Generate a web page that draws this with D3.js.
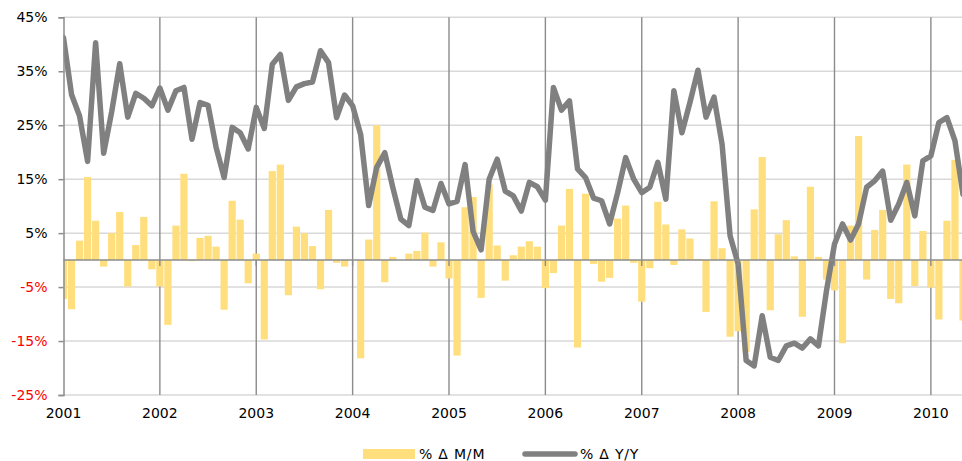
<!DOCTYPE html>
<html>
<head>
<meta charset="utf-8">
<script src="https://cdn.jsdelivr.net/npm/d3@7"></script>
<style>
  html, body { margin: 0; padding: 0; background: #fff; }
  svg { display: block; }
  text { font-family: "DejaVu Sans", Verdana, sans-serif; }
</style>
</head>
<body>
<svg id="chart" width="962" height="461"></svg>
<script>
// Year labels (one tick per January)
const yearLabels = ["2001","2002","2003","2004","2005","2006","2007","2008","2009","2010"];

// Monthly % change month-on-month (Jan 2001 .. May 2010)
const mmChange = [
  -7.2, -9.1, 3.6, 15.4, 7.3, -1.2, 5.0, 8.9, -4.9, 2.8, 8.0, -1.7,
  -4.9, -12.0, 6.4, 16.0, -0.2, 4.1, 4.5, 2.5, -9.2, 11.0, 7.5, -4.3,
  1.2, -14.7, 16.5, 17.7, -6.5, 6.2, 5.0, 2.6, -5.4, 9.3, -0.5, -1.2,
  0.0, -18.2, 3.8, 25.0, -4.1, 0.6, 0.0, 1.2, 1.7, 5.1, -1.2, 3.3,
  -3.4, -17.7, 9.8, 11.7, -7.0, 14.0, 2.7, -3.8, 0.9, 2.5, 3.5, 2.5,
  -5.2, -2.4, 6.4, 13.2, -16.2, 12.3, -0.7, -4.0, -3.3, 7.7, 10.1, -0.5,
  -7.7, -1.5, 10.8, 6.6, -0.9, 5.7, 4.0, 0.2, -9.6, 10.9, 2.2, -14.2,
  -13.2, -17.0, 9.4, 19.1, -9.3, 4.8, 7.4, 0.7, -10.5, 13.6, 0.6, -3.6,
  -5.6, -15.4, 6.4, 23.0, -3.6, 5.6, 9.3, -7.2, -8.0, 17.7, -4.8, 5.4,
  -5.1, -11.0, 7.3, 18.6, -11.2
];

// Monthly % change year-on-year
const yyChange = [
  41.2, 30.7, 26.7, 18.3, 40.3, 19.8, 27.5, 36.4, 26.5, 30.9, 30.0, 28.6,
  31.9, 27.8, 31.4, 32.0, 22.4, 29.2, 28.7, 20.9, 15.3, 24.6, 23.6, 20.6,
  28.3, 24.4, 36.3, 38.1, 29.6, 32.1, 32.7, 33.0, 38.8, 36.6, 26.4, 30.6,
  28.6, 23.3, 10.1, 17.2, 19.9, 13.5, 7.6, 6.4, 14.7, 9.8, 9.2, 14.2,
  10.4, 10.9, 17.7, 5.3, 1.9, 15.0, 18.7, 12.8, 11.9, 9.1, 14.4, 13.6,
  11.1, 32.0, 27.8, 29.5, 16.9, 15.3, 11.5, 11.0, 6.7, 12.5, 19.0, 15.0,
  12.5, 13.5, 18.1, 11.3, 31.4, 23.6, 29.2, 35.2, 26.5, 30.2, 21.5, 4.5,
  -0.7, -18.6, -19.6, -10.3, -18.0, -18.6, -15.9, -15.4, -16.3, -14.6, -15.9, -5.7,
  3.0, 6.7, 3.7, 6.7, 13.5, 14.7, 16.5, 7.4, 10.4, 14.4, 8.2, 18.4,
  19.3, 25.5, 26.4, 22.1, 12.2
];

// Y axis ticks
const yTicks = [45, 35, 25, 15, 5, -5, -15, -25];

const seriesNames = ["% \u0394 M/M", "% \u0394 Y/Y"];

const BAR_COLOR = "#FFDF7D";
const LINE_COLOR = "#808080";

const svg = d3.select("#chart");
const pLeft = 63.5, pRight = 962, pTop = 17.3, pBottom = 395;

const x = d3.scaleLinear().domain([0, 112]).range([pLeft, 963]);
const y = d3.scaleLinear().domain([-25, 45]).range([pBottom, pTop]);

svg.append("defs").append("clipPath").attr("id", "plotclip")
  .append("rect").attr("x", pLeft).attr("y", pTop - 5).attr("width", pRight - pLeft).attr("height", pBottom - pTop + 10);

// horizontal gridlines
svg.append("g").selectAll("line").data(yTicks).join("line")
  .attr("x1", pLeft).attr("x2", pRight)
  .attr("y1", d => y(d)).attr("y2", d => y(d))
  .attr("stroke", "#D9D9D9").attr("stroke-width", 1.5);

// vertical year lines
const yearIdx = yearLabels.map((_, i) => i * 12);
svg.append("g").selectAll("line").data(yearIdx.slice(1)).join("line")
  .attr("x1", d => x(d)).attr("x2", d => x(d))
  .attr("y1", pTop).attr("y2", pBottom)
  .attr("stroke", "#8C8C8C").attr("stroke-width", 1.4);

const plot = svg.append("g").attr("clip-path", "url(#plotclip)");

// bars
const bw = 7.2;
plot.append("g").selectAll("rect").data(mmChange).join("rect")
  .attr("x", (d, i) => x(i) - bw / 2)
  .attr("width", bw)
  .attr("y", d => y(Math.max(0, d)))
  .attr("height", d => Math.abs(y(d) - y(0)))
  .attr("fill", BAR_COLOR);

// zero axis with year ticks
svg.append("line")
  .attr("x1", pLeft).attr("x2", pRight)
  .attr("y1", y(0)).attr("y2", y(0))
  .attr("stroke", "#8C8C8C").attr("stroke-width", 1.5);
svg.append("g").selectAll("line").data(yearIdx.slice(1)).join("line")
  .attr("x1", d => x(d)).attr("x2", d => x(d))
  .attr("y1", y(0)).attr("y2", y(0) + 6)
  .attr("stroke", "#8C8C8C").attr("stroke-width", 1.4);

// left axis
const yAxis = d3.axisLeft(y).tickValues(yTicks).tickSize(5).tickFormat(d => d + "%");
const gy = svg.append("g").attr("transform", `translate(${pLeft},0)`).call(yAxis);
gy.select(".domain").attr("stroke", "#8C8C8C").attr("stroke-width", 1.5);
gy.selectAll(".tick line").attr("stroke", "#8C8C8C").attr("stroke-width", 1.5);
gy.selectAll(".tick text")
  .attr("x", -16)
  .attr("font-size", 14)
  .attr("font-family", "DejaVu Sans, sans-serif")
  .attr("fill", d => d < 0 ? "#FF0000" : "#000");

// year labels
svg.append("g").selectAll("text").data(yearLabels).join("text")
  .attr("x", (d, i) => x(i * 12))
  .attr("y", 418)
  .attr("text-anchor", "middle")
  .attr("font-size", 14)
  .attr("fill", "#000")
  .text(d => d);

// Y/Y line
const line = d3.line().x((d, i) => x(i)).y(d => y(d));
plot.append("path")
  .datum(yyChange)
  .attr("d", line)
  .attr("fill", "none")
  .attr("stroke", LINE_COLOR)
  .attr("stroke-width", 5.5)
  .attr("stroke-linejoin", "round")
  .attr("stroke-linecap", "round");

// legend
const lg = svg.append("g");
lg.append("rect").attr("x", 363).attr("y", 449).attr("width", 52).attr("height", 10).attr("fill", BAR_COLOR);
lg.append("text").attr("x", 419).attr("y", 459).attr("font-size", 14).attr("letter-spacing", 0.8).text(seriesNames[0]);
lg.append("line").attr("x1", 525).attr("x2", 575).attr("y1", 454).attr("y2", 454)
  .attr("stroke", LINE_COLOR).attr("stroke-width", 5.5).attr("stroke-linecap", "round");
lg.append("text").attr("x", 580).attr("y", 459).attr("font-size", 14).attr("letter-spacing", 0.8).text(seriesNames[1]);
</script>
</body>
</html>
